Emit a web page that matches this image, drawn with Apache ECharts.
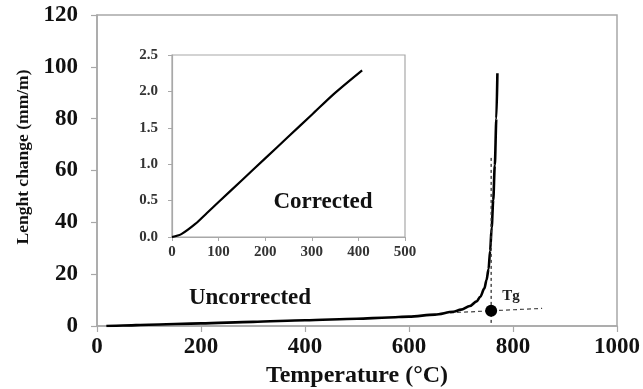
<!DOCTYPE html>
<html><head><meta charset="utf-8">
<script src="https://cdn.jsdelivr.net/npm/echarts@6/dist/echarts.min.js"></script>
<style>html,body{margin:0;padding:0;background:#fff}#c{width:643px;height:389px}</style>
</head><body><div id="c"></div>
<script>
// Main (uncorrected) curve: temperature (°C), length change (mm/m)
const mainT = [18, 50, 100, 200, 300, 400, 500, 560, 600, 650, 685, 700, 717, 730, 737, 745, 749, 753, 756, 759, 762, 765, 768, 770];
const mainV = [0, 0.2, 0.5, 1.0, 1.6, 2.2, 2.8, 3.3, 3.6, 4.4, 5.5, 6.3, 7.7, 9.5, 11.3, 14.5, 17.7, 22, 29, 38, 48.6, 62, 80, 97.5];
// Inset (corrected) curve
const insetT = [0, 20, 50, 75, 100, 150, 200, 250, 300, 350, 408];
const insetV = [0, 0.04, 0.18, 0.33, 0.48, 0.78, 1.08, 1.38, 1.68, 1.98, 2.29];
// Tg construction
const tgPoint = [758, 5.9];
const tgHorizT = [679, 856];
const tgHorizV = [5.1, 6.8];
const tgVertT = [758, 758];
const tgVertV = [1.2, 66];
// Axis ticks
const mainXTicks = [0, 200, 400, 600, 800, 1000];
const mainYTicks = [0, 20, 40, 60, 80, 100, 120];
const insetXTicks = [0, 100, 200, 300, 400, 500];
const insetYTicks = [0, 0.5, 1.0, 1.5, 2.0, 2.5];
const labels = { uncorrected: 'Uncorrected', corrected: 'Corrected', tg: 'Tg', yTitle: 'Lenght change (mm/m)', xTitle: 'Temperature (°C)' };

const serif = '"Liberation Serif", "DejaVu Serif", serif';
const pair = (a, b) => a.map((v, i) => [v, b[i]]);
const chart = echarts.init(document.getElementById('c'), null, { renderer: 'canvas' });
const axisCommon = () => ({
  axisLine: { show: true, lineStyle: { color: '#a8a8a8', width: 1.5 } },
  splitLine: { show: false },
});
chart.setOption({
  animation: false,
  backgroundColor: '#fff',
  grid: [
    { left: 97, right: 26, top: 15, bottom: 63, outerBoundsMode: 'none', containLabel: false,
      show: true, borderColor: '#a8a8a8', borderWidth: 1.5, backgroundColor: '#fff' },
    { left: 172, right: 238, top: 55, bottom: 152, outerBoundsMode: 'none', containLabel: false,
      show: true, borderColor: '#a8a8a8', borderWidth: 1.2, backgroundColor: '#fff', z: 5 }
  ],
  xAxis: [
    Object.assign(axisCommon(), {
      type: 'value', gridIndex: 0, min: mainXTicks[0], max: mainXTicks[mainXTicks.length - 1], interval: 200,
      axisTick: { show: true, length: 6, lineStyle: { color: '#a8a8a8', width: 1.2 } },
      axisLabel: { margin: 10, color: '#111', fontFamily: serif, fontWeight: 'bold', fontSize: 23, formatter: v => String(v) },
      name: labels.xTitle, nameLocation: 'middle', nameGap: 36,
      nameTextStyle: { color: '#111', fontFamily: serif, fontWeight: 'bold', fontSize: 24 }
    }),
    Object.assign(axisCommon(), {
      type: 'value', gridIndex: 1, min: insetXTicks[0], max: insetXTicks[insetXTicks.length - 1], interval: 100, z: 6,
      axisTick: { show: true, length: 4, lineStyle: { color: '#a8a8a8', width: 1 } },
      axisLine: { show: true, lineStyle: { color: '#a8a8a8', width: 1.2 } },
      axisLabel: { margin: 8, color: '#333', fontFamily: serif, fontWeight: 'bold', fontSize: 15, formatter: v => String(v) }
    })
  ],
  yAxis: [
    Object.assign(axisCommon(), {
      type: 'value', gridIndex: 0, min: mainYTicks[0], max: mainYTicks[mainYTicks.length - 1], interval: 20,
      axisTick: { show: true, length: 6, lineStyle: { color: '#a8a8a8', width: 1.2 } },
      axisLabel: { margin: 19, color: '#111', fontFamily: serif, fontWeight: 'bold', fontSize: 23 }
    }),
    Object.assign(axisCommon(), {
      type: 'value', gridIndex: 1, min: insetYTicks[0], max: insetYTicks[insetYTicks.length - 1], interval: 0.5, z: 6,
      axisTick: { show: true, length: 4, lineStyle: { color: '#a8a8a8', width: 1 } },
      axisLine: { show: true, lineStyle: { color: '#a8a8a8', width: 1.2 } },
      axisLabel: { margin: 14, color: '#333', fontFamily: serif, fontWeight: 'bold', fontSize: 15, formatter: v => v.toFixed(1) }
    })
  ],
  series: [
    { type: 'line', xAxisIndex: 0, yAxisIndex: 0, data: pair(mainT, mainV), showSymbol: false, smooth: 0.3, smoothMonotone: 'x',
      lineStyle: { color: '#000', width: 2.6 }, z: 3 },
    { type: 'line', xAxisIndex: 0, yAxisIndex: 0, data: pair(tgHorizT, tgHorizV), showSymbol: false,
      lineStyle: { color: '#444', width: 1.2, type: [4, 3] }, z: 2 },
    { type: 'line', xAxisIndex: 0, yAxisIndex: 0, data: pair(tgVertT, tgVertV), showSymbol: false,
      lineStyle: { color: '#333', width: 1.3, type: [3, 3] }, z: 4 },
    { type: 'scatter', xAxisIndex: 0, yAxisIndex: 0, data: [tgPoint], symbolSize: 12,
      itemStyle: { color: '#000', opacity: 1 }, z: 5 },
    { type: 'line', xAxisIndex: 1, yAxisIndex: 1, data: pair(insetT, insetV), showSymbol: false, smooth: 0.3,
      lineStyle: { color: '#000', width: 2.2 }, z: 10 }
  ],
  graphic: [
    { type: 'text', x: 23, y: 157, rotation: Math.PI / 2, z: 20, style: { text: labels.yTitle, fill: '#111', font: 'bold 17.5px ' + serif, align: 'center', verticalAlign: 'middle' } },
    { type: 'text', x: 250, y: 298, z: 20, style: { text: labels.uncorrected, fill: '#111', font: 'bold 23px ' + serif, align: 'center', verticalAlign: 'middle' } },
    { type: 'text', x: 323, y: 202, z: 20, style: { text: labels.corrected, fill: '#111', font: 'bold 23px ' + serif, align: 'center', verticalAlign: 'middle' } },
    { type: 'text', x: 511, y: 296, z: 20, style: { text: labels.tg, fill: '#222', font: 'bold 15px ' + serif, align: 'center', verticalAlign: 'middle' } }
  ]
});
</script></body></html>
